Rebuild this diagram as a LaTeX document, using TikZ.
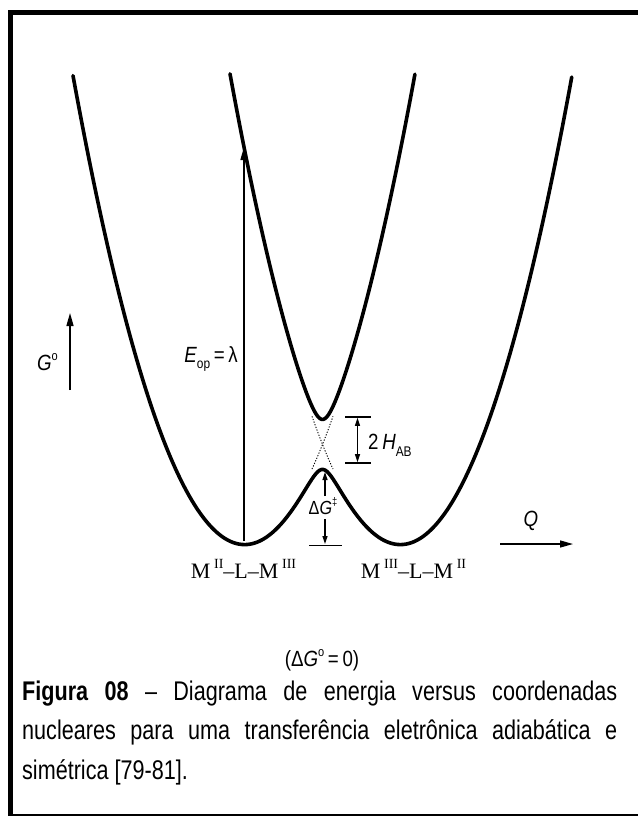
\documentclass[tikz,border=0pt]{standalone}
\usepackage{fontspec}
\setmainfont{Liberation Sans}
\newfontfamily\sfn{Liberation Sans}[FakeStretch=0.85]
\newfontfamily\sfcap{Liberation Sans}[FakeStretch=0.8]
\newfontfamily\srf{Liberation Serif}
\usetikzlibrary{arrows.meta}
\tikzset{
  curve/.style={line width=3.6pt, line cap=round, line join=round},
  axisline/.style={line width=1.3pt},
  arr/.style={axisline, -{Triangle[length=13pt,width=7pt]}},
  barline/.style={line width=1.5pt},
  dbl/.style={line width=1.2pt, {Triangle[length=8pt,width=5pt]}-{Triangle[length=8pt,width=5pt]}},
  sarr/.style={line width=1.2pt, -{Triangle[length=8pt,width=5pt]}},
  lab/.style={inner sep=0pt, font=\sfn\fontsize{22}{22}\selectfont},
  mlab/.style={inner sep=0pt, font=\srf\fontsize{22}{22}\selectfont},
  capline/.style={inner sep=0pt, anchor=base west, font=\sfcap\fontsize{27}{27}\selectfont},
  diab/.style={line width=0.9pt, dash pattern=on 1.2pt off 1.6pt},
  framestyle/.style={line width=5pt, line join=miter}
}
\begin{document}
\begin{tikzpicture}[x=1pt,y=-1pt,
  declare function={
    Va(\t)=1.6*(\t-2.44)*(\t-2.44);
    Vb(\t)=1.6*(\t-4.01)*(\t-4.01);
    hlo(\t)=(Va(\t)+Vb(\t))/2 - sqrt(((Va(\t)-Vb(\t))/2)*((Va(\t)-Vb(\t))/2)+0.0625);
    hhi(\t)=(Va(\t)+Vb(\t))/2 + sqrt(((Va(\t)-Vb(\t))/2)*((Va(\t)-Vb(\t))/2)+0.0625);
  }]
\useasboundingbox (0,0) rectangle (638,816);
\fill[white] (0,0) rectangle (638,816);
% frame
\coordinate (fbl) at (10.5,816);
\coordinate (ftl) at (10.5,12.5);
\coordinate (ftr) at (638,12.5);
\draw[framestyle] (fbl) -- (ftl) -- (ftr);
\coordinate (bbl) at (8,815.2);
\coordinate (bbr) at (638,815.2);
\draw[line width=1.6pt] (bbl) -- (bbr);
% potential curves
\draw[curve] plot[domain=0.73:5.72, samples=260, variable=\t] ({100*\t},{543-100*hlo(\t)});
\draw[curve] plot[domain=2.30:4.15, samples=200, variable=\t] ({100*\t},{543-100*hhi(\t)});
\draw[diab] plot[domain=3.12:3.33, samples=20, variable=\t] ({100*\t},{543-100*Va(\t)});
\draw[diab] plot[domain=3.12:3.33, samples=20, variable=\t] ({100*\t},{543-100*Vb(\t)});
% E_op arrow
\coordinate (eb) at (244,541);
\coordinate (et) at (244,147);
\draw[arr] (eb) -- (et);
\node[lab, anchor=base east] (eop) at (238,362) {\textit{E}\raisebox{-0.3em}{\fontsize{14}{14}\selectfont op}\,=\,λ};
% G axis
\coordinate (gb) at (70,390);
\coordinate (gt) at (70,313);
\draw[arr] (gb) -- (gt);
\node[lab, anchor=base west] (glab) at (37,370) {\textit{G}\raisebox{0.42em}{\fontsize{13}{13}\selectfont o}};
% Q axis
\coordinate (qa) at (500,544);
\coordinate (qb) at (573,544);
\draw[arr] (qa) -- (qb);
\node[lab, anchor=base] (qlab) at (531,526) {\textit{Q}};
% 2 H_AB
\coordinate (ht1) at (345,417);
\coordinate (ht2) at (371,417);
\coordinate (hb1) at (345,463);
\coordinate (hb2) at (371,463);
\coordinate (hm1) at (357.5,417.8);
\coordinate (hm2) at (357.5,462.2);
\draw[barline] (ht1) -- (ht2);
\draw[barline] (hb1) -- (hb2);
\draw[dbl] (hm1) -- (hm2);
\node[lab, anchor=base west] (hab) at (368,449) {2\,\textit{H}\raisebox{-0.35em}{\fontsize{14}{14}\selectfont AB}};
% Delta G double-dagger
\coordinate (ds1) at (325,496);
\coordinate (dt1) at (325,472);
\coordinate (ds2) at (325,519);
\coordinate (dt2) at (325,544);
\coordinate (db1) at (309,545.5);
\coordinate (db2) at (342,545.5);
\draw[sarr] (ds1) -- (dt1);
\draw[sarr] (ds2) -- (dt2);
\draw[barline] (db1) -- (db2);
\node[inner sep=0pt, anchor=base, font=\sfn\fontsize{19}{19}\selectfont] (dg) at (323,514) {Δ\textit{G}\raisebox{0.45em}{\fontsize{11}{11}\selectfont ‡}};
% M labels
\node[mlab, anchor=base] (ml) at (243.5,578) {M\,\raisebox{0.45em}{\fontsize{14}{14}\selectfont II}–L–M\,\raisebox{0.45em}{\fontsize{14}{14}\selectfont III}};
\node[mlab, anchor=base] (mr) at (413.5,578) {M\,\raisebox{0.45em}{\fontsize{14}{14}\selectfont III}–L–M\,\raisebox{0.45em}{\fontsize{14}{14}\selectfont II}};
% Delta G = 0
\node[lab, anchor=base] (dg0) at (322,666) {(Δ\textit{G}\raisebox{0.42em}{\fontsize{13}{13}\selectfont o}\,=\,0)};
% caption
\node[capline] (c1) at (22,700) {\makebox[595pt][s]{\textbf{Figura 08} – Diagrama de energia versus coordenadas}};
\node[capline] (c2) at (22,739) {\makebox[595pt][s]{nucleares para uma transferência eletrônica adiabática e}};
\node[capline] (c3) at (22,779) {simétrica [79-81].};
\end{tikzpicture}
\end{document}
